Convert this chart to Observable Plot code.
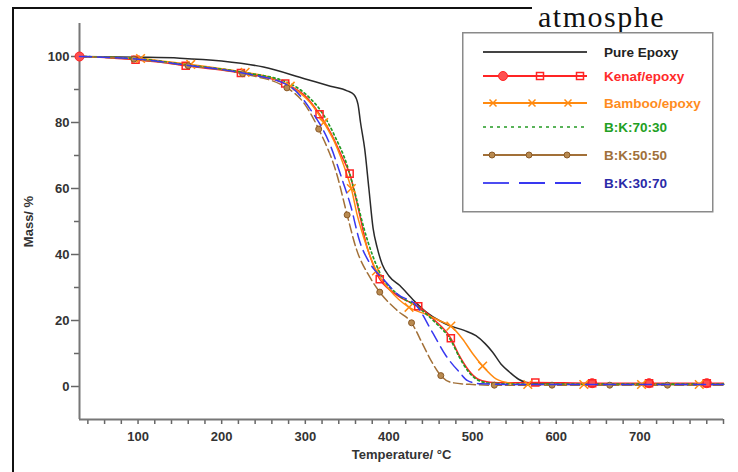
<!DOCTYPE html>
<html><head><meta charset="utf-8">
<script src="https://cdn.jsdelivr.net/npm/d3@7"></script>
<script src="https://cdn.jsdelivr.net/npm/@observablehq/plot@0.6"></script>
<style>
body{margin:0;background:#fff;}
#wrap{position:relative;width:738px;height:472px;overflow:hidden;background:#fff;font-family:"Liberation Sans",Arial,sans-serif;}
#wrap svg.plot{position:absolute;left:0;top:0;}
.bl{position:absolute;left:12px;top:7px;width:1.5px;height:470px;background:#111;}
.bt{position:absolute;left:12px;top:7px;width:520px;height:1.5px;background:#111;}
.doc{position:absolute;left:538px;top:0px;font-family:"Liberation Serif",serif;font-size:30px;line-height:34px;height:34px;letter-spacing:1.5px;color:#111;white-space:nowrap;}
#legend{position:absolute;left:462px;top:32px;}
</style></head><body><div id="wrap">
<div class="bl"></div><div class="bt"></div><div class="doc">atmosphe</div>
</div>
<script>
// ---- data (temperature °C, mass %) ----
const pureT = [30, 100, 150, 200, 250, 300, 330, 350, 358, 363, 366, 371, 376, 381, 386, 392, 400, 413, 430, 445, 460, 472, 490, 504, 515, 524, 535, 544, 555, 563, 580, 650, 720, 800];
const pureM = [100, 99.8, 99.5, 98.6, 96.8, 93.2, 91, 89.6, 88.5, 85.5, 80, 72, 60, 48, 42, 37, 33.5, 30.6, 26, 22.5, 20, 18.5, 17, 15.4, 13, 10.4, 6.5, 4.4, 2.2, 1.3, 0.8, 0.6, 0.6, 0.6];

const kenafT = [30, 60, 97, 130, 157, 190, 223, 250, 276, 300, 317, 330, 345, 353, 365, 373, 381, 389, 400, 415, 435, 455, 474, 484, 495, 506, 520, 540, 575, 643, 711, 780, 800];
const kenafM = [100, 99.7, 99, 98.2, 97.2, 96.2, 95, 93.8, 91.8, 88, 82.5, 77, 69, 64.5, 52, 43, 37, 32.5, 29.5, 26.8, 24.3, 20, 14.6, 9.4, 5, 2.3, 1.3, 1.1, 1.2, 1, 1, 1, 1];
const kenafSquareT = [97, 157, 223, 276, 317, 353, 389, 435, 474, 575, 643, 711, 780];
const kenafDotT = [30, 643, 711, 780];

const bambooT = [30, 60, 103, 130, 163, 200, 228, 260, 282, 306, 322, 335, 350, 355, 362, 370, 385, 400, 424, 445, 460, 474, 488, 500, 512, 528, 545, 566, 633, 702, 771, 800];
const bambooM = [100, 99.8, 99.4, 98.6, 97.6, 96.3, 95.2, 93.5, 91, 86, 80, 74, 64, 60, 52, 45, 35, 29.5, 24, 21.8, 20, 18.3, 14.4, 10, 6.2, 2.3, 1, 0.6, 0.6, 0.6, 0.6, 0.6];
const bambooMarkT = [103, 163, 228, 282, 322, 355, 385, 424, 474, 512, 566, 633, 702, 771];

const bk7030T = [30, 100, 160, 225, 280, 305, 320, 335, 350, 360, 370, 380, 390, 410, 435, 455, 474, 484, 495, 506, 520, 560, 800];
const bk7030M = [100, 99.3, 97.4, 95.2, 92, 87.5, 83, 76, 67, 58, 48, 40, 34, 28, 24, 19.5, 14, 9, 4.5, 2, 1, 0.7, 0.7];

const bk5050T = [30, 95, 160, 225, 278, 298, 316, 338, 350, 361, 377, 389, 410, 427, 440, 450, 462, 475, 500, 526, 595, 664, 733, 800];
const bk5050M = [100, 99.2, 97.2, 94.8, 90.5, 86, 78, 64, 52, 41.7, 33.2, 28.6, 23, 19.3, 13, 8, 3.3, 1.2, 0.6, 0.4, 0.4, 0.4, 0.4, 0.4];
const bk5050MarkT = [95, 160, 225, 278, 316, 350, 389, 427, 462, 526, 595, 664, 733];

const bk3070T = [30, 100, 160, 225, 280, 306, 330, 345, 354, 365, 378, 393, 410, 433, 452, 468, 484, 494, 510, 560, 800];
const bk3070M = [100, 99.2, 97.3, 95, 91.2, 84, 73, 62, 55, 44, 37, 32.6, 28, 24.5, 16.4, 9.4, 4.4, 1.8, 0.8, 0.6, 0.6];

const seriesNames = ["Pure Epoxy", "Kenaf/epoxy", "Bamboo/epoxy", "B:K:70:30", "B:K:50:50", "B:K:30:70"];
const yTicks = [0, 20, 40, 60, 80, 100];
const yMinor = [10, 30, 50, 70, 90];
const xTickLabels = [100, 200, 300, 400, 500, 600, 700];
const xMinor = d3.range(40, 801, 20);

const rows = (T, M) => T.map((t, i) => ({T: t, M: M[i]}));
const pick = (data, Ts) => data.filter(d => Ts.includes(d.T));

const pure = rows(pureT, pureM), kenaf = rows(kenafT, kenafM), bamboo = rows(bambooT, bambooM);
const g = rows(bk7030T, bk7030M), br = rows(bk5050T, bk5050M), bl = rows(bk3070T, bk3070M);

const C = {black:"#2a2a2a", red:"#ff2424", orange:"#ff8a10", green:"#239a23", brown:"#a27038", blue:"#3838f0"};
const line = (data, stroke, extra={}) => Plot.line(data, {x:"T", y:"M", stroke, strokeWidth:1.5, curve:"monotone-x", ...extra});

const plot = Plot.plot({
  width: 738, height: 472,
  marginLeft: 79, marginRight: 15, marginTop: 23, marginBottom: 53,
  x: {domain: [30, 800]},
  y: {domain: [-10, 110]},
  style: {fontFamily: "Liberation Sans, Arial, sans-serif", fontWeight: "bold", background: "transparent", color: "#333"},
  marks: [
    Plot.axisY({ticks: yMinor, tickSize: 5, text: null, label: null, stroke: "#666", strokeWidth: 1.5}),
    Plot.axisY({ticks: yTicks, tickSize: 8, tickPadding: 2, fontSize: 13, fill: "#333", stroke: "#666", strokeWidth: 1.5,
      label: "Mass/ %", labelAnchor: "center", labelOffset: 56, labelArrow: "none"}),
    Plot.axisX({ticks: xMinor, tickSize: 5, text: null, label: null, stroke: "#666", strokeWidth: 1.5}),
    Plot.axisX({ticks: xTickLabels, tickSize: 0, tickPadding: 12, fontSize: 13, fill: "#333",
      label: "Temperature/ °C", labelAnchor: "center", labelOffset: 39, labelArrow: "none"}),
    Plot.ruleX([30], {stroke: "#777", strokeWidth: 2}),
    Plot.ruleY([-10], {stroke: "#777", strokeWidth: 2}),
    line(pure, C.black),
    line(kenaf, C.red),
    line(bamboo, C.orange),
    line(g, C.green, {strokeDasharray: "2,3", strokeWidth: 1.7}),
    line(br, C.brown, {strokeDasharray: "9,4"}),
    Plot.dot(pick(kenaf, kenafDotT), {x: "T", y: "M", r: 4.5, fill: "#ff5050", stroke: C.red, strokeWidth: 1}),
    Plot.dot(pick(kenaf, kenafSquareT), {x: "T", y: "M", symbol: "square", r: 4, fill: "none", stroke: C.red, strokeWidth: 1.5}),
    Plot.dot(pick(bamboo, bambooMarkT), {x: "T", y: "M", symbol: "times", r: 4, stroke: C.orange, strokeWidth: 1.5}),
    Plot.dot(pick(br, bk5050MarkT), {x: "T", y: "M", r: 3, fill: "#b88a50", stroke: "#8a5a28", strokeWidth: 1}),
    line(bl, C.blue, {strokeDasharray: "12,6"})
  ]
});
plot.classList.add("plot");
document.getElementById("wrap").appendChild(plot);

// ---- legend ----
const legendItems = [
  {name: seriesNames[0], color: "#444", text: "#222", dash: null, marker: null},
  {name: seriesNames[1], color: C.red, text: "#ff2a2a", dash: null, marker: "kenaf"},
  {name: seriesNames[2], color: C.orange, text: "#ff8c20", dash: null, marker: "times"},
  {name: seriesNames[3], color: C.green, text: "#22a022", dash: "3,4", marker: null},
  {name: seriesNames[4], color: C.brown, text: "#a0703a", dash: null, marker: "circle"},
  {name: seriesNames[5], color: C.blue, text: "#2a2aa8", dash: "26,10", marker: null}
];
const rowY = [20, 44, 71, 95, 123, 151];
const lg = d3.create("svg").attr("id", "legend").attr("width", 252).attr("height", 181);
lg.append("rect").attr("x", 0.75).attr("y", 0.75).attr("width", 250).attr("height", 179)
  .attr("fill", "#fff").attr("stroke", "#8a8a8a").attr("stroke-width", 1.5);
legendItems.forEach((it, i) => {
  const y = rowY[i];
  lg.append("line").attr("x1", 21).attr("x2", 125).attr("y1", y).attr("y2", y)
    .attr("stroke", it.color).attr("stroke-width", it.dash === "3,4" ? 1.7 : 1.8)
    .attr("stroke-dasharray", it.dash);
  if (it.marker === "kenaf") {
    lg.append("circle").attr("cx", 41).attr("cy", y).attr("r", 4.5).attr("fill", "#ff5050").attr("stroke", it.color);
    [78, 118].forEach(x => lg.append("rect").attr("x", x - 3.5).attr("y", y - 3.5).attr("width", 7).attr("height", 7)
      .attr("fill", "none").attr("stroke", it.color).attr("stroke-width", 1.5));
  } else if (it.marker === "times") {
    [31, 70, 106].forEach(x => lg.append("path").attr("d", `M${x-3.5},${y-3.5}L${x+3.5},${y+3.5}M${x-3.5},${y+3.5}L${x+3.5},${y-3.5}`)
      .attr("stroke", it.color).attr("stroke-width", 1.5));
  } else if (it.marker === "circle") {
    [30, 67, 105].forEach(x => lg.append("circle").attr("cx", x).attr("cy", y).attr("r", 3)
      .attr("fill", "#b88a50").attr("stroke", "#8a5a28"));
  }
  lg.append("text").attr("x", 142).attr("y", y).attr("dy", "0.36em")
    .attr("font-family", "Liberation Sans, Arial, sans-serif").attr("font-weight", "bold")
    .attr("font-size", 13.5).attr("fill", it.text).text(it.name);
});
document.getElementById("wrap").appendChild(lg.node());
</script>
</body></html>
